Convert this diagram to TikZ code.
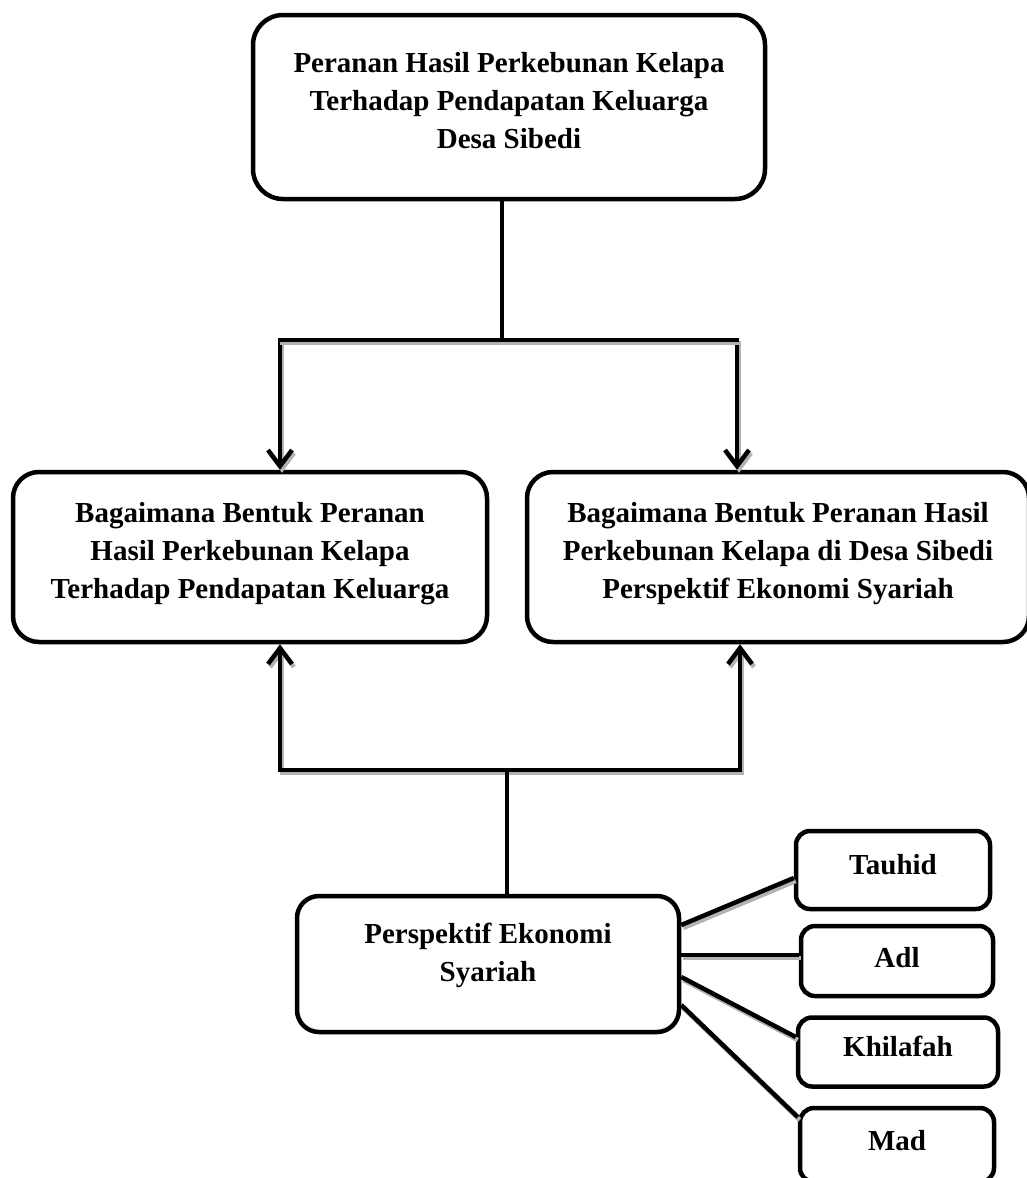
\documentclass[tikz,border=0pt]{standalone}
\usepackage{fontspec}
\setmainfont{Liberation Serif}
\usetikzlibrary{arrows.meta,calc}
\begin{document}
\begin{tikzpicture}[x=1pt,y=-1pt,
  box/.style={draw=black,line width=4.5pt,rounded corners=#1,inner sep=0pt,align=center,
    font=\fontsize{29}{38}\selectfont\bfseries},
  box/.default=26pt,
  conn/.style={line width=4.5pt,
    preaction={draw=gray!60,line width=4.5pt,transform canvas={shift={(2pt,-3pt)}}}},
  arr/.style={conn,-{Straight Barb[length=16pt,width=24pt,line width=4.5pt]}}
]
\useasboundingbox (0,0) rectangle (1027,1178);
\node[box=30pt,minimum width=512pt,minimum height=184pt] (top) at (509,107)
  {Peranan Hasil Perkebunan Kelapa\\Terhadap Pendapatan Keluarga\\Desa Sibedi\\[-24pt]};
\node[box,minimum width=474pt,minimum height=170pt] (left) at (250,557)
  {Bagaimana Bentuk Peranan\\Hasil Perkebunan Kelapa\\Terhadap Pendapatan Keluarga\\[-24pt]};
\node[box,minimum width=502pt,minimum height=170pt] (right) at (778,557)
  {Bagaimana Bentuk Peranan Hasil\\Perkebunan Kelapa di Desa Sibedi\\Perspektif Ekonomi Syariah\\[-24pt]};
\node[box=22pt,minimum width=382pt,minimum height=136pt] (persp) at (488,964)
  {Perspektif Ekonomi\\Syariah\\[-14pt]};
\node[box=14pt,minimum width=194pt,minimum height=78pt] (tauhid) at (893,870) {Tauhid\\[-26pt]};
\node[box=14pt,minimum width=192pt,minimum height=70pt] (adl) at (897,961) {Adl\\[-30pt]};
\node[box=14pt,minimum width=200pt,minimum height=69pt] (khilafah) at (898,1052) {Khilafah\\[-26pt]};
\node[box=14pt,minimum width=194pt,minimum height=74pt] (mad) at (897,1145) {Mad\\[-28pt]};
% top branch
\coordinate (t1) at (502,340);
\coordinate (tl) at (280,340);
\coordinate (tr) at (737,340);
\draw[line width=4.5pt] (top.south -| t1) -- (t1);
\draw[arr] (tl |- t1) -- (tl |- left.north);
\draw[arr] (tr) -- (tr |- right.north);
\draw[conn] ([xshift=-2pt]tl) -- ([xshift=2pt]tr);
% bottom branch
\coordinate (bl) at (280,770);
\coordinate (br) at (740,770);
\coordinate (bm) at (507,770);
\draw[arr] (bl) -- (bl |- left.south);
\draw[arr] (br) -- (br |- right.south);
\draw[conn] ([xshift=-2pt]bl) -- ([xshift=2pt]br);
\draw[line width=4.5pt] (bm) -- (bm |- persp.north);
% spokes
\draw[conn] ([yshift=39pt]persp.east) -- ([yshift=-8pt]tauhid.west);
\draw[conn] ([yshift=9pt]persp.east) -- ([yshift=6pt]adl.west);
\draw[conn] ([yshift=-13pt]persp.east) -- ([yshift=15pt]khilafah.west);
\draw[conn] ([yshift=-41pt]persp.east) -- ([yshift=28pt]mad.west);
\end{tikzpicture}
\end{document}
